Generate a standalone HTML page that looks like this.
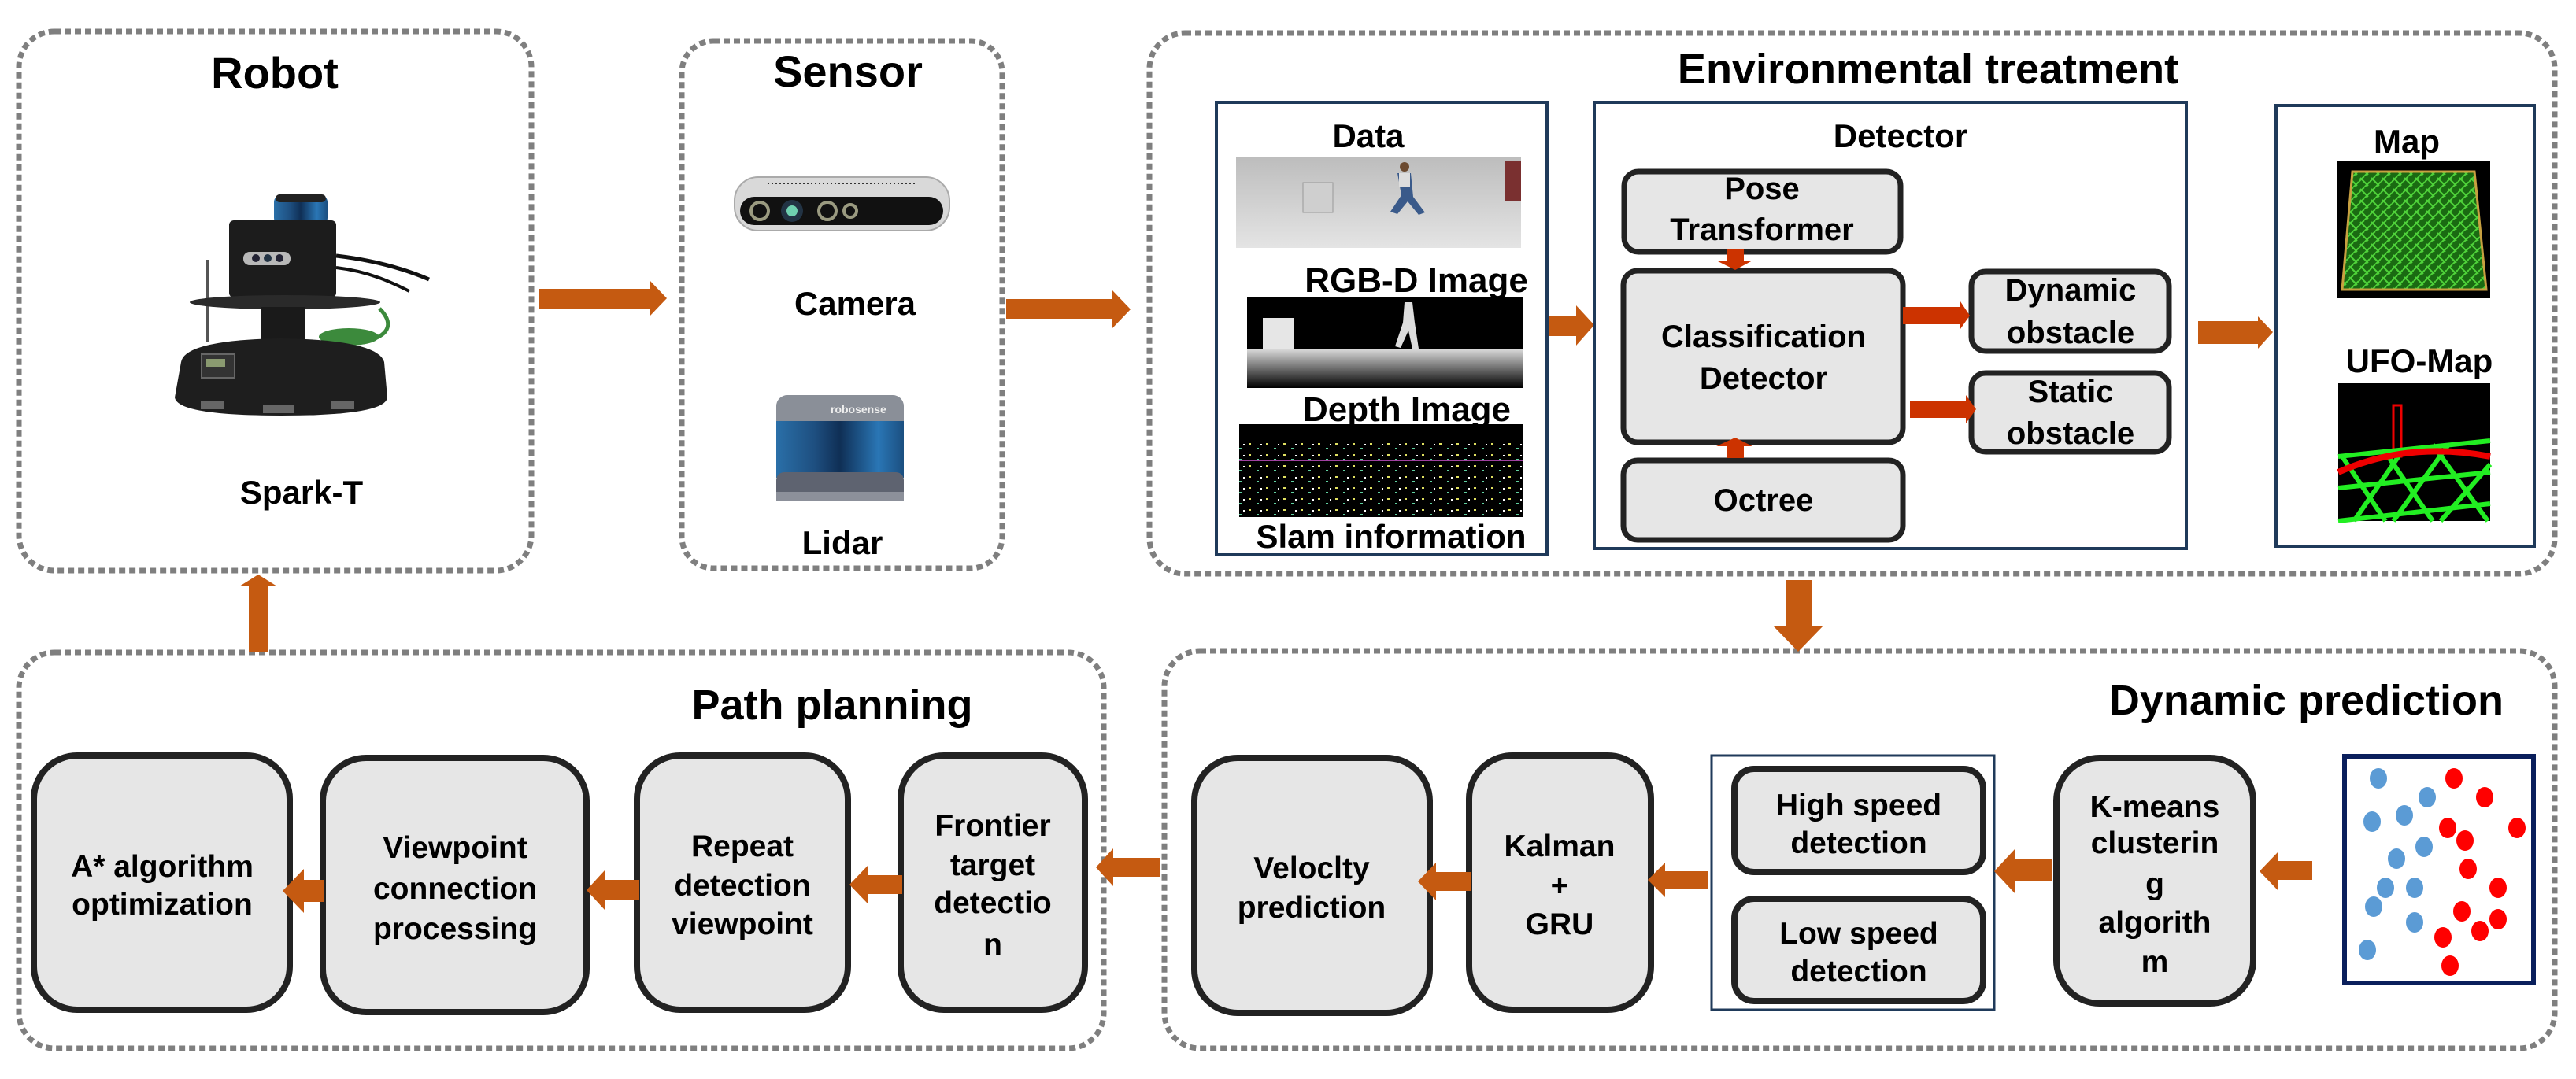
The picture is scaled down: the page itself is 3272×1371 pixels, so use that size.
<!DOCTYPE html>
<html><head><meta charset="utf-8"><style>
html,body{margin:0;padding:0;background:#fff;}
svg{display:block;}
text{font-family:"Liberation Sans",Arial,sans-serif;font-weight:bold;fill:#000;}
</style></head><body>
<svg width="3272" height="1371" viewBox="0 0 3272 1371" xmlns="http://www.w3.org/2000/svg">
<defs>
<linearGradient id="gDepth" x1="0" y1="0" x2="0" y2="1"><stop offset="0" stop-color="#d8d8d8"/><stop offset="1" stop-color="#000"/></linearGradient>
<linearGradient id="gData" x1="0" y1="0" x2="0" y2="1"><stop offset="0" stop-color="#bdbdbd"/><stop offset="1" stop-color="#e4e4e4"/></linearGradient>
<linearGradient id="gLidar" x1="0" y1="0" x2="1" y2="0"><stop offset="0" stop-color="#2a6fa8"/><stop offset="0.3" stop-color="#1e4f80"/><stop offset="0.5" stop-color="#0f2f55"/><stop offset="0.8" stop-color="#2a76b5"/><stop offset="1" stop-color="#1b4f80"/></linearGradient>
<pattern id="pDots" width="22" height="14" patternUnits="userSpaceOnUse"><rect x="2" y="3" width="3" height="2" fill="#e0e060"/><rect x="12" y="9" width="3" height="2" fill="#60d0a0"/><rect x="17" y="4" width="2" height="2" fill="#ffffff"/></pattern>
<pattern id="pMap" width="14" height="14" patternUnits="userSpaceOnUse"><rect width="14" height="14" fill="#1a6a12"/><path d="M0 7 L7 0 M7 14 L14 7 M2 2 L12 12" stroke="#4fd23a" stroke-width="2"/></pattern>
</defs>

<g fill="none" stroke="#7f7f7f" stroke-width="7" stroke-dasharray="8 5">
<rect x="24" y="40" width="651" height="685" rx="45"/>
<rect x="866" y="52" width="407" height="670" rx="40"/>
<rect x="1460" y="42" width="1785" height="687" rx="45"/>
<rect x="24" y="829" width="1378" height="503" rx="45"/>
<rect x="1479" y="827" width="1766" height="505" rx="45"/>
</g>

<text x="349" y="112" font-size="56" text-anchor="middle">Robot</text>
<text x="1077" y="110" font-size="56" text-anchor="middle">Sensor</text>
<text x="2449" y="106" font-size="54" text-anchor="middle">Environmental treatment</text>
<text x="1057" y="914" font-size="54" text-anchor="middle">Path planning</text>
<text x="3180" y="908" font-size="54" text-anchor="end">Dynamic prediction</text>

<g>
<rect x="348" y="247" width="68" height="40" rx="10" fill="url(#gLidar)"/>
<rect x="350" y="247" width="64" height="10" rx="5" fill="#222"/>
<rect x="291" y="280" width="136" height="98" rx="6" fill="#1c1c1c"/>
<rect x="309" y="320" width="60" height="17" rx="8" fill="#b8b8b8"/>
<circle cx="325" cy="328" r="5" fill="#223"/><circle cx="340" cy="328" r="5" fill="#234"/><circle cx="355" cy="328" r="5" fill="#223"/>
<path d="M427 325 C470 330 510 340 545 355" stroke="#111" stroke-width="5" fill="none"/>
<path d="M427 340 C470 345 500 360 520 370" stroke="#111" stroke-width="4" fill="none"/>
<rect x="262" y="330" width="4" height="105" fill="#555"/>
<ellipse cx="362" cy="384" rx="121" ry="9" fill="#2a2a2a"/>
<rect x="331" y="390" width="56" height="46" fill="#1a1a1a"/>
<ellipse cx="443" cy="428" rx="38" ry="11" fill="#3c8a3c"/>
<path d="M482 392 C500 410 495 425 470 432" stroke="#3c8a3c" stroke-width="5" fill="none"/>
<path d="M230 460 Q235 432 357 430 Q480 432 488 460 L492 505 Q490 528 357 528 Q225 528 222 505 Z" fill="#1e1e1e"/>
<rect x="256" y="450" width="42" height="30" fill="#333" stroke="#666" stroke-width="2"/>
<rect x="262" y="456" width="24" height="10" fill="#8a9a70"/>
<rect x="255" y="510" width="30" height="10" fill="#666"/>
<rect x="334" y="515" width="40" height="10" fill="#666"/>
<rect x="420" y="510" width="30" height="10" fill="#666"/>
</g>
<text x="383" y="640" font-size="42" text-anchor="middle">Spark-T</text>

<rect x="933" y="225" width="273" height="68" rx="30" fill="#d9d9d9" stroke="#aaa" stroke-width="2"/>
<rect x="940" y="250" width="258" height="36" rx="18" fill="#111"/>
<g fill="none" stroke="#9a9a80" stroke-width="4">
<circle cx="965" cy="268" r="11"/><circle cx="1051" cy="268" r="11"/><circle cx="1080" cy="268" r="8"/>
</g>
<circle cx="1006" cy="268" r="14" fill="#234"/><circle cx="1006" cy="268" r="7" fill="#6fd0b0"/>
<g stroke="#333" stroke-width="2"><path d="M975 233 H1165" stroke-dasharray="2 3"/></g>
<text x="1086" y="400" font-size="42" text-anchor="middle">Camera</text>

<rect x="986" y="502" width="162" height="50" rx="14" fill="#8a8f98"/>
<rect x="986" y="535" width="162" height="72" fill="url(#gLidar)"/>
<rect x="986" y="600" width="162" height="36" rx="10" fill="#5e6370"/>
<rect x="986" y="625" width="162" height="12" fill="#8c909a"/>
<text x="1055" y="525" font-size="14" style="fill:#eee">robosense</text>
<text x="1070" y="704" font-size="42" text-anchor="middle">Lidar</text>

<g fill="#c55a11">
<polygon points="684,367 825,367 825,356 847,379 825,402 825,392 684,392"/>
<polygon points="1278,380 1413,380 1413,369 1436,393 1413,417 1413,405 1278,405"/>
<polygon points="1967,402 2002,402 2002,388 2025,413 2002,439 2002,427 1967,427"/>
<polygon points="2792,408 2868,408 2868,402 2887,422 2868,443 2868,437 2792,437"/>
<polygon points="2269,737 2301,737 2301,795 2316,795 2284,828 2252,795 2269,795"/>
<polygon points="316,829 340,829 340,745 352,745 328,730 304,745 316,745"/>
</g>

<rect x="1545" y="130" width="420" height="575" fill="#fff" stroke="#1f3a5a" stroke-width="4"/>
<text x="1738" y="187" font-size="42" text-anchor="middle">Data</text>
<rect x="1570" y="200" width="362" height="115" fill="url(#gData)"/>
<rect x="1655" y="232" width="38" height="38" fill="#cfcfcf" stroke="#999"/>
<path d="M1775 220 L1792 220 L1795 250 L1810 270 L1802 273 L1788 256 L1775 272 L1766 269 L1780 248 Z" fill="#3a5a8a"/>
<rect x="1777" y="220" width="14" height="18" fill="#ddd"/>
<circle cx="1784" cy="212" r="6" fill="#6b4a30"/>
<rect x="1912" y="205" width="20" height="50" fill="#7a3030"/>
<text x="1799" y="371" font-size="44" text-anchor="middle">RGB-D Image</text>
<rect x="1584" y="377" width="351" height="116" fill="#000"/>
<rect x="1584" y="444" width="351" height="49" fill="url(#gDepth)"/>
<rect x="1604" y="404" width="40" height="40" fill="#e6e6e6"/>
<path d="M1784 384 L1794 384 L1797 410 L1802 443 L1794 443 L1789 420 L1779 442 L1772 440 L1782 410 Z" fill="#ddd"/>
<text x="1787" y="535" font-size="44" text-anchor="middle">Depth Image</text>
<rect x="1574" y="539" width="361" height="118" fill="#000"/>
<rect x="1574" y="560" width="361" height="97" fill="url(#pDots)"/>
<line x1="1574" y1="585" x2="1935" y2="585" stroke="#a040a0" stroke-width="2"/>
<text x="1767" y="696" font-size="42" text-anchor="middle">Slam information</text>

<rect x="2025" y="130" width="752" height="567" fill="#fff" stroke="#1f3a5a" stroke-width="4"/>
<text x="2414" y="187" font-size="42" text-anchor="middle">Detector</text>
<g fill="#e6e6e6" stroke="#222" stroke-width="7">
<rect x="2063" y="218" width="351" height="102" rx="18"/>
<rect x="2062" y="344" width="355" height="218" rx="18"/>
<rect x="2062" y="585" width="355" height="101" rx="18"/>
<rect x="2504" y="345" width="251" height="101" rx="18"/>
<rect x="2504" y="474" width="251" height="100" rx="18"/>
</g>
<g fill="#cc3300">
<polygon points="2194,317 2215,317 2215,331 2226,331 2204,343 2180,331 2194,331"/>
<polygon points="2194,582 2215,582 2215,567 2226,567 2204,556 2180,567 2194,567"/>
<polygon points="2417,390 2490,390 2490,383 2502,401 2490,418 2490,412 2417,412"/>
<polygon points="2426,509 2497,509 2497,502 2510,520 2497,538 2497,531 2426,531"/>
</g>
<g font-size="40" text-anchor="middle">
<text x="2238" y="253">Pose</text>
<text x="2238" y="305">Transformer</text>
<text x="2240" y="441">Classification</text>
<text x="2240" y="494">Detector</text>
<text x="2240" y="649">Octree</text>
<text x="2630" y="382">Dynamic</text>
<text x="2630" y="436">obstacle</text>
<text x="2630" y="511">Static</text>
<text x="2630" y="564">obstacle</text>
</g>

<rect x="2891" y="134" width="328" height="560" fill="#fff" stroke="#1f3a5a" stroke-width="4"/>
<text x="3057" y="194" font-size="42" text-anchor="middle">Map</text>
<rect x="2968" y="205" width="195" height="174" fill="#000"/>
<polygon points="2988,218 3143,218 3158,368 2975,368" fill="url(#pMap)" stroke="#c8a040" stroke-width="3"/>
<text x="3073" y="473" font-size="42" text-anchor="middle">UFO-Map</text>
<rect x="2970" y="487" width="193" height="175" fill="#000"/>
<rect x="3040" y="515" width="10" height="65" fill="none" stroke="#e00" stroke-width="3"/>
<g stroke="#22ee22" stroke-width="6">
<path d="M2970 580 L3163 560 M2970 620 L3163 600 M2970 662 L3163 640 M2990 662 L3050 575 M3040 662 L3110 565 M3100 662 L3163 590 M2975 580 L3030 662 M3030 575 L3090 662 M3090 565 L3160 662"/>
</g>
<path d="M2970 600 Q3060 560 3163 580" stroke="#e00" stroke-width="8" fill="none"/>

<g fill="#e6e6e6" stroke="#222" stroke-width="8">
<rect x="43" y="960" width="325" height="323" rx="55"/>
<rect x="410" y="963" width="335" height="323" rx="55"/>
<rect x="809" y="960" width="268" height="323" rx="55"/>
<rect x="1144" y="960" width="234" height="323" rx="55"/>
<rect x="1517" y="963" width="299" height="324" rx="55"/>
<rect x="1866" y="960" width="231" height="323" rx="55"/>
<rect x="2612" y="963" width="250" height="312" rx="55"/>
</g>
<rect x="2174" y="960" width="359" height="323" fill="#fff" stroke="#1f3a5a" stroke-width="3"/>
<g fill="#e6e6e6" stroke="#222" stroke-width="8">
<rect x="2203" y="977" width="316" height="131" rx="25"/>
<rect x="2203" y="1142" width="316" height="130" rx="25"/>
</g>
<g fill="#c55a11">
<polygon points="359,1132 386,1104 386,1118 412,1118 412,1146 386,1146 386,1160"/>
<polygon points="745,1131 768,1106 768,1118 812,1118 812,1144 768,1144 768,1156"/>
<polygon points="1079,1124 1102,1100 1102,1112 1146,1112 1146,1136 1102,1136 1102,1148"/>
<polygon points="1392,1102 1414,1078 1414,1090 1474,1090 1474,1114 1414,1114 1414,1126"/>
<polygon points="1801,1120 1824,1096 1824,1108 1868,1108 1868,1132 1824,1132 1824,1144"/>
<polygon points="2093,1118 2115,1096 2115,1107 2170,1107 2170,1130 2115,1130 2115,1140"/>
<polygon points="2533,1107 2560,1078 2560,1092 2606,1092 2606,1120 2560,1120 2560,1136"/>
<polygon points="2870,1107 2894,1082 2894,1094 2937,1094 2937,1118 2894,1118 2894,1132"/>
</g>
<g font-size="39" text-anchor="middle">
<text x="206" y="1114">A* algorithm</text>
<text x="206" y="1162">optimization</text>
<text x="578" y="1090">Viewpoint</text>
<text x="578" y="1142">connection</text>
<text x="578" y="1193">processing</text>
<text x="943" y="1088">Repeat</text>
<text x="943" y="1138">detection</text>
<text x="943" y="1187">viewpoint</text>
<text x="1261" y="1062">Frontier</text>
<text x="1261" y="1112">target</text>
<text x="1261" y="1160">detectio</text>
<text x="1261" y="1213">n</text>
<text x="1666" y="1116">Veloclty</text>
<text x="1666" y="1166">prediction</text>
<text x="1981" y="1088">Kalman</text>
<text x="1981" y="1138">+</text>
<text x="1981" y="1187">GRU</text>
<text x="2361" y="1036">High speed</text>
<text x="2361" y="1084">detection</text>
<text x="2361" y="1199">Low speed</text>
<text x="2361" y="1247">detection</text>
<text x="2737" y="1038">K-means</text>
<text x="2737" y="1084">clusterin</text>
<text x="2737" y="1136">g</text>
<text x="2737" y="1185">algorith</text>
<text x="2737" y="1235">m</text>
</g>

<rect x="2978" y="961" width="240" height="288" fill="#fff" stroke="#0a1f5c" stroke-width="6"/>
<g fill="#5b9bd5">
<ellipse cx="3021" cy="989" rx="11" ry="13"/><ellipse cx="3083" cy="1013" rx="11" ry="13"/><ellipse cx="3054" cy="1036" rx="11" ry="13"/>
<ellipse cx="3013" cy="1044" rx="11" ry="13"/><ellipse cx="3079" cy="1076" rx="11" ry="13"/><ellipse cx="3044" cy="1091" rx="11" ry="13"/>
<ellipse cx="3030" cy="1128" rx="11" ry="13"/><ellipse cx="3067" cy="1128" rx="11" ry="13"/><ellipse cx="3015" cy="1152" rx="11" ry="13"/>
<ellipse cx="3067" cy="1172" rx="11" ry="13"/><ellipse cx="3007" cy="1207" rx="11" ry="13"/>
</g>
<g fill="#ff0000">
<ellipse cx="3117" cy="989" rx="11" ry="13"/><ellipse cx="3156" cy="1013" rx="11" ry="13"/><ellipse cx="3109" cy="1052" rx="11" ry="13"/>
<ellipse cx="3197" cy="1052" rx="11" ry="13"/><ellipse cx="3131" cy="1068" rx="11" ry="13"/><ellipse cx="3135" cy="1104" rx="11" ry="13"/>
<ellipse cx="3173" cy="1128" rx="11" ry="13"/><ellipse cx="3127" cy="1158" rx="11" ry="13"/><ellipse cx="3173" cy="1168" rx="11" ry="13"/>
<ellipse cx="3150" cy="1183" rx="11" ry="13"/><ellipse cx="3103" cy="1191" rx="11" ry="13"/><ellipse cx="3112" cy="1227" rx="11" ry="13"/>
</g>
</svg>
</body></html>
